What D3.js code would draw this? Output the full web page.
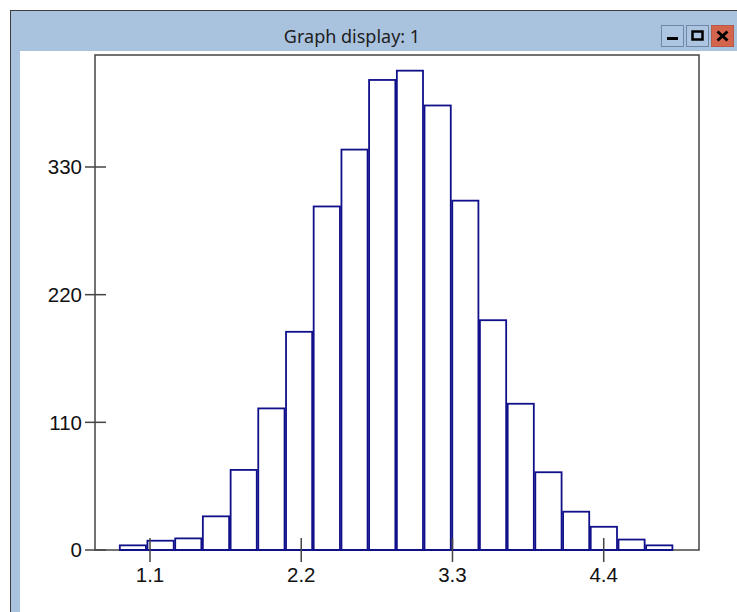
<!DOCTYPE html>
<html><head><meta charset="utf-8">
<script src="https://cdn.jsdelivr.net/npm/d3@7"></script>
<style>html,body{margin:0;padding:0;background:#fff;overflow:hidden}</style>
</head><body>
<script>
// ---- data ----
const binEdges = [0.875, 1.076, 1.278, 1.479, 1.681, 1.882, 2.084, 2.285, 2.487, 2.688, 2.890,
                  3.091, 3.293, 3.494, 3.696, 3.897, 4.099, 4.300, 4.502, 4.703, 4.905];
const counts = [4, 8, 10, 29, 69, 122, 188, 296, 345, 405, 413, 383, 301, 198, 126, 67, 33, 20, 9, 4];
const xTickValues = [1.1, 2.2, 3.3, 4.4];
const xTickLabels = ["1.1", "2.2", "3.3", "4.4"];
const yTickValues = [0, 110, 220, 330];
const yTickLabels = ["0", "110", "220", "330"];
const windowTitle = "Graph display: 1";
const xDomain = [0.7, 5.093];
const yDomain = [0, 426.5];

const W = 737, H = 612;
const svg = d3.select("body").append("svg").attr("width", W).attr("height", H);

// ---- window chrome ----
svg.append("rect").attr("x", 0).attr("y", 0).attr("width", W).attr("height", H).attr("fill", "#fff");
svg.append("rect").attr("x", 10).attr("y", 10).attr("width", W - 10).attr("height", H - 10).attr("fill", "#3c3c3c");
svg.append("rect").attr("x", 11).attr("y", 11).attr("width", W - 11).attr("height", H - 11).attr("fill", "#a9c2de");
svg.append("rect").attr("x", 20).attr("y", 51).attr("width", W - 20).attr("height", H - 51).attr("fill", "#fff");
svg.append("text").attr("x", 352).attr("y", 43).attr("text-anchor", "middle")
  .attr("font-family", "'Noto Sans', 'Open Sans', sans-serif").attr("font-size", 18)
  .attr("fill", "#1e1e1e").text(windowTitle);

// buttons
const btnX = [661, 686, 711];
btnX.forEach((bx, i) => {
  svg.append("rect").attr("x", bx + 0.5).attr("y", 25.5).attr("width", 22).attr("height", 21)
    .attr("fill", i === 2 ? "#d4654c" : "#adc5e0").attr("stroke", i === 2 ? "#b55a48" : "#6d87a8").attr("stroke-width", 1);
});
svg.append("rect").attr("x", 667).attr("y", 37).attr("width", 11).attr("height", 3).attr("fill", "#000");
svg.append("rect").attr("x", 692.5).attr("y", 31.5).attr("width", 10).attr("height", 8).attr("fill", "none").attr("stroke", "#000").attr("stroke-width", 2.5);
svg.append("path").attr("d", "M717.5,31.5 L727.5,40.5 M727.5,31.5 L717.5,40.5").attr("stroke", "#000").attr("stroke-width", 3);

// ---- chart ----
const m = {left: 95, right: 699, top: 55, bottom: 550};
const x = d3.scaleLinear().domain(xDomain).range([m.left, m.right]);
const y = d3.scaleLinear().domain(yDomain).range([m.bottom, m.top]);

const bars = counts.map((c, i) => ({x0: binEdges[i], x1: binEdges[i + 1], c}));

svg.append("g").selectAll("rect").data(bars).join("rect")
  .attr("x", d => x(d.x0) + 0.75)
  .attr("width", d => x(d.x1) - x(d.x0) - 1.5)
  .attr("y", d => y(d.c))
  .attr("height", d => y(0) - y(d.c))
  .attr("fill", "#fff").attr("stroke", "#10108a").attr("stroke-width", 1.8);

// frame
svg.append("rect").attr("x", m.left).attr("y", m.top).attr("width", m.right - m.left).attr("height", m.bottom - m.top)
  .attr("fill", "none").attr("stroke", "#444").attr("stroke-width", 1.5);
// re-draw bar baseline in navy
svg.append("line").attr("x1", x(binEdges[0])).attr("x2", x(binEdges[binEdges.length - 1]))
  .attr("y1", y(0)).attr("y2", y(0)).attr("stroke", "#10108a").attr("stroke-width", 2);

// y ticks
const gy = svg.append("g");
gy.selectAll("line").data(yTickValues).join("line")
  .attr("x1", m.left - 10).attr("x2", m.left + 11)
  .attr("y1", d => y(d)).attr("y2", d => y(d))
  .attr("stroke", "#444").attr("stroke-width", 1.5);
gy.selectAll("text").data(yTickValues).join("text")
  .attr("x", m.left - 13).attr("y", d => y(d)).attr("dy", "0.36em")
  .attr("text-anchor", "end").attr("font-family", "'Liberation Sans', Arial, sans-serif")
  .attr("font-size", 20.5).attr("fill", "#111")
  .text((d, i) => yTickLabels[i]);

// x ticks
const gx = svg.append("g");
gx.selectAll("line").data(xTickValues).join("line")
  .attr("x1", d => x(d)).attr("x2", d => x(d))
  .attr("y1", m.bottom - 12).attr("y2", m.bottom + 12)
  .attr("stroke", "#444").attr("stroke-width", 1.5);
gx.selectAll("text").data(xTickValues).join("text")
  .attr("x", d => x(d)).attr("y", 582)
  .attr("text-anchor", "middle").attr("font-family", "'Liberation Sans', Arial, sans-serif")
  .attr("font-size", 20.5).attr("fill", "#111")
  .text((d, i) => xTickLabels[i]);
</script>
</body></html>
